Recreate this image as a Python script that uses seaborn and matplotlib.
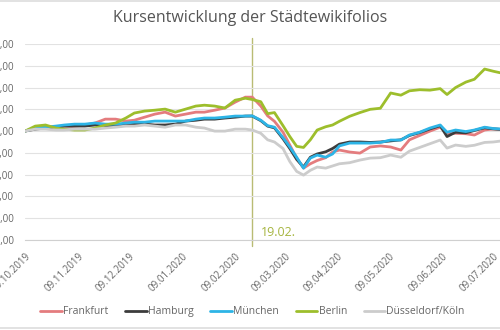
import matplotlib
matplotlib.use("Agg")
import matplotlib.pyplot as plt
from matplotlib.lines import Line2D
import seaborn as sns
import pandas as pd

dates = ["2019-10-09", "2019-10-15", "2019-10-21", "2019-10-27", "2019-11-01", "2019-11-07",
         "2019-11-13", "2019-11-19", "2019-11-25", "2019-12-01", "2019-12-07", "2019-12-12",
         "2019-12-18", "2019-12-24", "2019-12-30", "2020-01-05", "2020-01-11", "2020-01-17",
         "2020-01-22", "2020-01-28", "2020-02-03", "2020-02-09", "2020-02-15", "2020-02-19",
         "2020-02-24", "2020-02-28", "2020-03-03", "2020-03-08", "2020-03-12", "2020-03-16",
         "2020-03-20", "2020-03-24", "2020-03-28", "2020-04-02", "2020-04-06", "2020-04-10",
         "2020-04-16", "2020-04-22", "2020-04-28", "2020-05-04", "2020-05-10", "2020-05-16",
         "2020-05-21", "2020-05-27", "2020-06-02", "2020-06-08", "2020-06-12", "2020-06-17",
         "2020-06-23", "2020-06-28", "2020-07-04", "2020-07-09", "2020-07-13"]

frankfurt = [100, 101.4, 101.8, 101.8, 102.3, 102.3, 102.8, 103.7, 105.5, 105.5, 104.6, 105.0,
             106.4, 107.8, 108.7, 106.9, 107.8, 108.7, 108.7, 109.6, 110.6, 113.3, 115.6, 115.6,
             111.5, 107.0, 104.5, 99.5, 93.6, 87.6, 83.0, 85.0, 86.5, 87.8, 90.4, 91.3,
             90.4, 89.9, 92.7, 93.2, 92.7, 91.3, 96.0, 98.0, 100.0, 101.8, 99.0, 99.0,
             98.8, 98.2, 100.5, 101.0, 100.8]
hamburg = [100, 100.9, 101.4, 101.8, 102.3, 102.3, 102.3, 102.8, 102.3, 102.3, 102.8, 103.2,
           103.2, 102.8, 102.8, 103.2, 104.6, 105.0, 105.5, 105.5, 106.0, 106.4, 106.9, 106.9,
           104.8, 102.3, 101.5, 96.5, 92.0, 87.0, 83.5, 88.0, 89.5, 90.5, 92.0, 94.0,
           95.0, 95.0, 94.8, 95.0, 95.5, 96.0, 98.0, 99.3, 101.0, 102.5, 97.5, 99.5,
           99.2, 100.3, 101.5, 101.0, 100.8]
muenchen = [100, 101.4, 101.8, 102.3, 102.8, 103.2, 103.2, 103.7, 103.2, 103.2, 103.7, 104.1,
            104.1, 104.6, 104.6, 104.6, 104.6, 105.5, 106.0, 106.0, 106.4, 106.9, 106.9, 107.0,
            105.0, 102.5, 101.8, 97.0, 92.7, 88.0, 83.0, 87.6, 89.0, 88.0, 89.5, 93.2,
            94.5, 94.5, 94.5, 94.8, 95.9, 95.9, 98.2, 99.5, 101.4, 102.8, 99.5, 100.5,
            99.8, 100.5, 101.8, 101.2, 101.0]
berlin = [100, 102.3, 102.8, 101.4, 100.9, 100.5, 100.5, 101.4, 102.8, 103.7, 106.0, 108.3,
          109.2, 109.6, 110.1, 108.7, 110.1, 111.5, 111.9, 111.5, 110.6, 114.2, 115.1, 114.5,
          113.5, 108.0, 108.5, 102.5, 97.5, 93.0, 92.5, 96.0, 100.5, 102.0, 102.8, 104.5,
          106.8, 108.5, 110.0, 110.5, 117.5, 116.5, 118.5, 119.0, 118.8, 119.5, 116.8, 120.0,
          122.5, 123.8, 128.5, 127.5, 126.8]
duesseldorf = [100, 100.9, 100.9, 100.5, 100.5, 100.9, 100.9, 100.9, 101.4, 101.8, 102.3, 102.3,
               102.8, 102.3, 101.8, 102.8, 102.8, 101.8, 101.4, 100.0, 100.0, 100.9, 100.9, 100.5,
               99.0, 96.0, 95.0, 92.0, 86.0, 81.5, 79.8, 82.0, 83.5, 83.0, 84.0, 85.0,
               85.5, 86.7, 87.6, 87.8, 89.0, 88.0, 90.8, 92.5, 94.2, 95.9, 92.2, 93.6,
               93.0, 93.5, 94.8, 95.0, 95.4]

series_names = ["Frankfurt", "Hamburg", "München", "Berlin", "Düsseldorf/Köln"]
series_values = [frankfurt, hamburg, muenchen, berlin, duesseldorf]
colors = ["#E47C7E", "#3C3C3C", "#2DB4E6", "#9DBE2C", "#CCCCCC"]

y_ticks = [50, 60, 70, 80, 90, 100, 110, 120, 130, 140]
x_ticks = ["2019-10-09", "2019-11-09", "2019-12-09", "2020-01-09", "2020-02-09",
           "2020-03-09", "2020-04-09", "2020-05-09", "2020-06-09", "2020-07-09"]
marker_date = "2020-02-19"
marker_label = "19.02."
title = "Kursentwicklung der Städtewikifolios"

frames = []
for name, vals in zip(series_names, series_values):
    frames.append(pd.DataFrame({"Datum": pd.to_datetime(dates), "Wert": vals, "Fonds": name}))
df = pd.concat(frames, ignore_index=True)

sns.set_theme(style="white")
plt.rcParams["font.family"] = ["Open Sans", "DejaVu Sans"]

fig = plt.figure(figsize=(5.0, 3.3), dpi=100)
ax = fig.add_axes([0.05, 0.2727, 0.95, 0.5940])

sns.lineplot(data=df, x="Datum", y="Wert", hue="Fonds", hue_order=series_names,
             palette=colors, linewidth=2.0, ax=ax, legend=True)

ax.set_xlim(pd.Timestamp("2019-10-09"), pd.Timestamp("2020-07-13"))
ax.set_ylim(50, 140)
ax.set_yticks(y_ticks)
ax.set_yticklabels([f"{v},00" for v in y_ticks])
ax.set_xticks(pd.to_datetime(x_ticks))
ax.set_xticklabels([pd.Timestamp(d).strftime("%d.%m.%Y") for d in x_ticks],
                   rotation=45, ha="right", va="top", rotation_mode="anchor")
ax.tick_params(axis="y", length=0, pad=8, labelsize=7, colors="#666666")
ax.tick_params(axis="x", length=4, width=0.8, color="#d0d0d0", pad=4,
               labelsize=7, labelcolor="#666666", direction="out")
ax.set_xlabel("")
ax.set_ylabel("")

ax.grid(axis="y", color="#e2e2e2", linewidth=0.8)
ax.grid(axis="x", visible=False)
for s in ["top", "right", "left"]:
    ax.spines[s].set_visible(False)
ax.spines["bottom"].set_color("#d0d0d0")
ax.spines["bottom"].set_linewidth(0.8)

ax.axvline(pd.Timestamp(marker_date), color="#B9BC74", linewidth=1.0, zorder=0,
           ymin=-0.03, ymax=1.03, clip_on=False)
ax.text(pd.Timestamp(marker_date) + pd.Timedelta(days=5), 53.5, marker_label,
        color="#A6B540", fontsize=9, ha="left", va="center")

handles, labels = ax.get_legend_handles_labels()
ax.legend(handles=handles, labels=labels, ncol=5, frameon=False,
          loc="center", bbox_to_anchor=(0.505, 0.055), bbox_transform=fig.transFigure,
          fontsize=7.5, handlelength=2.1, handletextpad=0.1, columnspacing=1.6,
          labelcolor="#666666")

fig.text(0.5, 0.945, title, ha="center", va="center", fontsize=11.5, color="#555555")

fig.add_artist(Line2D([0, 1], [0.997, 0.997], transform=fig.transFigure, color="#dddddd", linewidth=1.2))
fig.add_artist(Line2D([0, 1], [0.006, 0.006], transform=fig.transFigure, color="#dddddd", linewidth=1.2))

fig.savefig("out.png", dpi=100)
